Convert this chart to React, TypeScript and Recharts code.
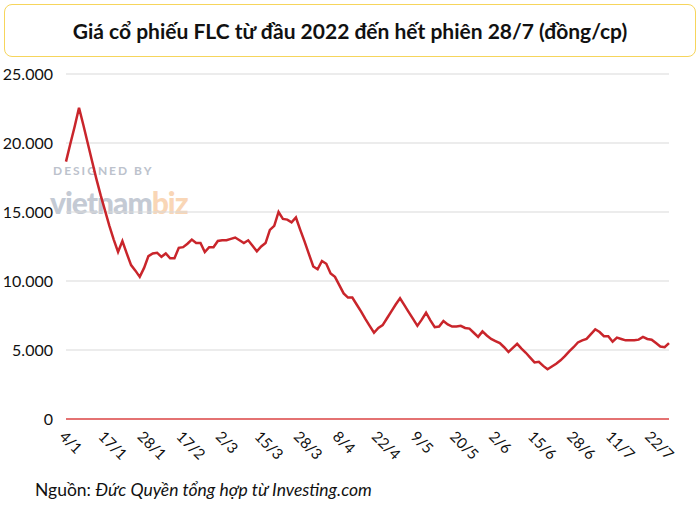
import { CartesianGrid, Line, LineChart, XAxis, YAxis } from "recharts";

// trading days, 4/1/2022 -> 28/7/2022
const dates = [
  "4/1", "5/1", "6/1", "7/1", "10/1", "11/1", "12/1", "13/1", "14/1", "17/1",
  "18/1", "19/1", "20/1", "21/1", "24/1", "25/1", "26/1", "27/1", "28/1",
  "7/2", "8/2", "9/2", "10/2", "11/2", "14/2", "15/2", "16/2", "17/2", "18/2",
  "21/2", "22/2", "23/2", "24/2", "25/2", "28/2",
  "1/3", "2/3", "3/3", "4/3", "7/3", "8/3", "9/3", "10/3", "11/3", "14/3",
  "15/3", "16/3", "17/3", "18/3", "21/3", "22/3", "23/3", "24/3", "25/3", "28/3",
  "29/3", "30/3", "31/3",
  "1/4", "4/4", "5/4", "6/4", "7/4", "8/4", "12/4", "13/4", "14/4", "15/4",
  "18/4", "19/4", "20/4", "21/4", "22/4", "25/4", "26/4", "27/4", "28/4", "29/4",
  "4/5", "5/5", "6/5", "9/5", "10/5", "11/5", "12/5", "13/5", "16/5", "17/5",
  "18/5", "19/5", "20/5", "23/5", "24/5", "25/5", "26/5", "27/5", "30/5", "31/5",
  "1/6", "2/6", "3/6", "6/6", "7/6", "8/6", "9/6", "10/6", "13/6", "14/6",
  "15/6", "16/6", "17/6", "20/6", "21/6", "22/6", "23/6", "24/6", "27/6", "28/6",
  "29/6", "30/6",
  "1/7", "4/7", "5/7", "6/7", "7/7", "8/7", "11/7", "12/7", "13/7", "14/7",
  "15/7", "18/7", "19/7", "20/7", "21/7", "22/7", "25/7", "26/7", "27/7", "28/7",
];

// closing price, dong per share
const prices = [
  18650, 19950, 21200, 22550, 21300, 20000, 18700, 17400, 16200, 15100,
  14000, 13000, 12100, 12900, 12000, 11150, 10750, 10300, 10950, 11800,
  12000, 12050, 11750, 12000, 11650, 11650, 12400, 12450, 12700, 13000,
  12750, 12750, 12100, 12450, 12450, 12900, 12950, 12950, 13050, 13150,
  12950, 12750, 12950, 12550, 12150, 12500, 12750, 13700, 14000, 15000,
  14500, 14450, 14250, 14600, 13700, 12850, 11950, 11050, 10850, 11450,
  11250, 10550, 10300, 9700, 9100, 8800, 8800, 8300, 7800, 7250,
  6750, 6250, 6600, 6800, 7300, 7800, 8300, 8750, 8250, 7750,
  7250, 6750, 7200, 7700, 7150, 6650, 6700, 7100, 6850, 6700,
  6700, 6750, 6600, 6550, 6250, 5950, 6350, 6050, 5800, 5650,
  5500, 5200, 4850, 5150, 5450, 5100, 4800, 4450, 4100, 4150,
  3850, 3600, 3800, 4000, 4250, 4550, 4900, 5200, 5550, 5700,
  5800, 6150, 6500, 6300, 6000, 6000, 5600, 5900, 5800, 5700,
  5700, 5700, 5750, 5950, 5800, 5750, 5500, 5250, 5200, 5500,
];

const yTicks = [0, 5000, 10000, 15000, 20000, 25000];

const data = dates.map((date, i) => ({ date, price: prices[i] }));

const FONT = "Lato, 'Open Sans', sans-serif";

const fmt = (v: number) => v.toLocaleString("de-DE");

export default function App() {
  return (
    <div style={{ position: "absolute", left: 0, top: 0, width: 700, height: 509, background: "#fff", fontFamily: FONT }}>
      <div
        style={{
          position: "absolute",
          left: 4,
          top: 4,
          width: 690,
          height: 51,
          border: "1.5px solid #f6d55c",
          borderRadius: 8,
          display: "flex",
          alignItems: "center",
          justifyContent: "center",
          fontWeight: 700,
          fontSize: 21,
          color: "#111",
        }}
      >
        Giá cổ phiếu FLC từ đầu 2022 đến hết phiên 28/7 (đồng/cp)
      </div>

      {/* watermark */}
      <div style={{ position: "absolute", left: 53, top: 165, lineHeight: "12px", fontWeight: 700, fontSize: 12, letterSpacing: 2, color: "#bcc2cc" }}>
        DESIGNED BY
      </div>
      <div style={{ position: "absolute", left: 50, top: 189, lineHeight: "26px", fontWeight: 900, fontSize: 30, letterSpacing: -1, color: "#c4cad4" }}>
        vietnam<span style={{ color: "#f9d6b6" }}>biz</span>
      </div>

      <div style={{ position: "absolute", left: 0, top: 0 }}>
        <LineChart width={700} height={500} data={data} margin={{ top: 74, right: 31, bottom: 0, left: 0 }}>
          <CartesianGrid horizontal vertical={false} stroke="#d9d9d9" strokeWidth={1.2} />
          <XAxis
            dataKey="date"
            interval={8}
            height={81}
            tickLine={false}
            axisLine={{ stroke: "#e24a4a", strokeWidth: 1.5 }}
            angle={45}
            textAnchor="start"
            tickMargin={5}
            tick={{ fontSize: 15, fill: "#111", fontFamily: FONT }}
          />
          <YAxis
            domain={[0, 25000]}
            ticks={yTicks}
            width={66}
            tickLine={false}
            axisLine={false}
            tickSize={0}
            tickMargin={13}
            tickFormatter={fmt}
            tick={{ fontSize: 16, fill: "#111", fontFamily: FONT }}
          />
          <Line
            type="linear"
            dataKey="price"
            stroke="#c9252b"
            strokeWidth={2.5}
            dot={false}
            isAnimationActive={false}
          />
        </LineChart>
      </div>

      <div style={{ position: "absolute", left: 35, top: 479, fontSize: 17.5, color: "#111" }}>
        Nguồn: <i>Đức Quyền tổng hợp từ Investing.com</i>
      </div>
    </div>
  );
}
